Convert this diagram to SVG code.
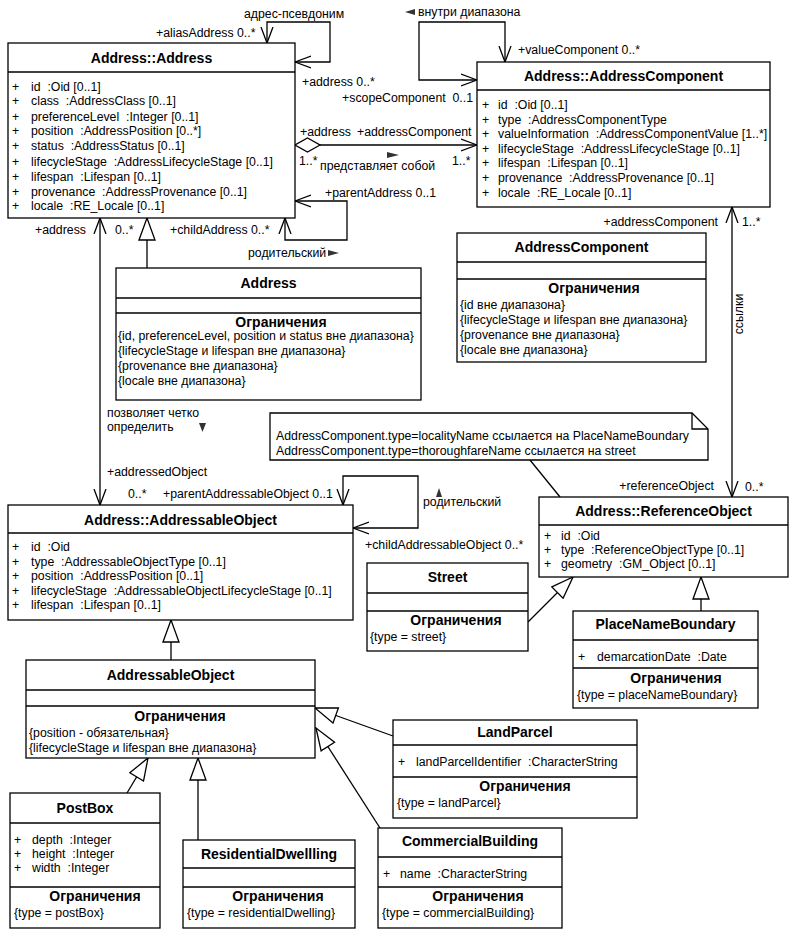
<svg xmlns="http://www.w3.org/2000/svg" width="796" height="935" viewBox="0 0 796 935">
<style>
 text{font-family:"Liberation Sans",Arial,sans-serif;font-size:12.3px;fill:#000;white-space:pre}
 .ti{font-weight:bold;font-size:14px;text-anchor:middle}
 .ct{font-weight:bold;font-size:14px;text-anchor:middle}
 .end{text-anchor:end}
 .box{fill:#fff;stroke:#000;stroke-width:1.3}
 .sep{stroke:#000;stroke-width:1.3}
 .con{fill:none;stroke:#000;stroke-width:1.3}
 .dir{fill:#333}
</style>
<defs>
 <marker id="op" viewBox="0 0 17 14" refX="16" refY="7" markerWidth="17" markerHeight="14" markerUnits="userSpaceOnUse" orient="auto-start-reverse"><path d="M0,1 L16,7 L0,13" fill="none" stroke="#000" stroke-width="1.3"/></marker>
 <marker id="gen" viewBox="0 0 24 18" refX="23" refY="9" markerWidth="24" markerHeight="18" markerUnits="userSpaceOnUse" orient="auto"><path d="M1,1 L23,9 L1,17 Z" fill="#fff" stroke="#000" stroke-width="1.3"/></marker>
 <marker id="dia" viewBox="0 0 27 16" refX="26" refY="8" markerWidth="27" markerHeight="16" markerUnits="userSpaceOnUse" orient="auto-start-reverse"><path d="M1,8 L13.5,1 L26,8 L13.5,15 Z" fill="#fff" stroke="#000" stroke-width="1.3"/></marker>
</defs>
<rect width="796" height="935" fill="#fff"/>

<g id="connectors">
 <path class="con" d="M267,43 V22 H330 V62 H295" marker-start="url(#op)" marker-end="url(#op)"/>
 <path class="con" d="M295,201 H347 V240 H285 V218" marker-start="url(#op)" marker-end="url(#op)"/>
 <path class="con" d="M295,145 H477" marker-start="url(#dia)" marker-end="url(#op)"/>
 <path class="con" d="M505,62 V22 H419 V80 H477" marker-start="url(#op)" marker-end="url(#op)"/>
 <path class="con" d="M100,218 V505" marker-start="url(#op)" marker-end="url(#op)"/>
 <path class="con" d="M147,268 V218" marker-end="url(#gen)"/>
 <path class="con" d="M732,207 V497" marker-start="url(#op)" marker-end="url(#op)"/>
 <path class="con" d="M530,460 L560,497"/>
 <path class="con" d="M343,505 V476 H418 V528 H353" marker-start="url(#op)" marker-end="url(#op)"/>
 <path class="con" d="M171,660 V620" marker-end="url(#gen)"/>
 <path class="con" d="M528,622 L573,577" marker-end="url(#gen)"/>
 <path class="con" d="M701,611 V577" marker-end="url(#gen)"/>
 <path class="con" d="M393,736 L315,708" marker-end="url(#gen)"/>
 <path class="con" d="M380,828 L316,728" marker-end="url(#gen)"/>
 <path class="con" d="M127,793 L148,758" marker-end="url(#gen)"/>
 <path class="con" d="M198,840 V758" marker-end="url(#gen)"/>

 <text x="244" y="18">адрес-псевдоним</text>
 <text x="156" y="37">+aliasAddress 0..*</text>
 <text x="302" y="86">+address 0..*</text>
 <polygon class="dir" points="405,12 415,9 415,15"/>
 <text x="418" y="16">внутри диапазона</text>
 <text x="518" y="54">+valueComponent 0..*</text>
 <text class="end" x="473" y="102">+scopeComponent  0..1</text>
 <text x="300" y="136">+address</text>
 <text x="357" y="136">+addressComponent</text>
 <text x="299" y="165">1..*</text>
 <text x="320" y="170">представляет собой</text>
 <polygon class="dir" points="387,152 399,155 387,158"/>
 <text x="452" y="165">1..*</text>
 <text x="325" y="197">+parentAddress 0..1</text>
 <text x="35" y="234">+address</text>
 <text x="115" y="234">0..*</text>
 <text x="170" y="234">+childAddress 0..*</text>
 <text x="248" y="257">родительский</text>
 <polygon class="dir" points="328,250 339,253 328,256"/>
 <text class="end" x="718" y="226">+addressComponent</text>
 <text x="742" y="226">1..*</text>
 <text transform="translate(743,314) rotate(-90)" text-anchor="middle">ссылки</text>
 <text x="107" y="417">позволяет четко</text>
 <text x="107" y="431">определить</text>
 <polygon class="dir" points="199,423 206,423 202.5,432"/>
 <text x="107" y="476">+addressedObject</text>
 <text x="128" y="498">0..*</text>
 <text x="163" y="498">+parentAddressableObject 0..1</text>
 <polygon class="dir" points="436,497 439,488 442,497"/>
 <text x="423" y="506">родительский</text>
 <text x="365" y="549">+childAddressableObject 0..*</text>
 <text class="end" x="714" y="490">+referenceObject</text>
 <text x="745" y="491">0..*</text>
</g>

<g id="address-address">
 <rect class="box" x="8" y="43" width="287" height="175"/>
 <line class="sep" x1="8" y1="72" x2="295" y2="72"/>
 <text class="ti" x="151.5" y="63">Address::Address</text>
 <text x="12" y="91">+</text><text x="31" y="91">id  :Oid [0..1]</text>
 <text x="12" y="105">+</text><text x="31" y="105">class  :AddressClass [0..1]</text>
 <text x="12" y="121">+</text><text x="31" y="121">preferenceLevel  :Integer [0..1]</text>
 <text x="12" y="135">+</text><text x="31" y="135">position  :AddressPosition [0..*]</text>
 <text x="12" y="150">+</text><text x="31" y="150">status  :AddressStatus [0..1]</text>
 <text x="12" y="166">+</text><text x="31" y="166">lifecycleStage  :AddressLifecycleStage [0..1]</text>
 <text x="12" y="181">+</text><text x="31" y="181">lifespan  :Lifespan [0..1]</text>
 <text x="12" y="196">+</text><text x="31" y="196">provenance  :AddressProvenance [0..1]</text>
 <text x="12" y="210">+</text><text x="31" y="210">locale  :RE_Locale [0..1]</text>
</g>

<g id="address-component">
 <rect class="box" x="477" y="62" width="293" height="145"/>
 <line class="sep" x1="477" y1="90" x2="770" y2="90"/>
 <text class="ti" x="623.5" y="81">Address::AddressComponent</text>
 <text x="482" y="109">+</text><text x="498" y="109">id  :Oid [0..1]</text>
 <text x="482" y="124">+</text><text x="498" y="124">type  :AddressComponentType</text>
 <text x="482" y="138">+</text><text x="498" y="138">valueInformation  :AddressComponentValue [1..*]</text>
 <text x="482" y="153">+</text><text x="498" y="153">lifecycleStage  :AddressLifecycleStage [0..1]</text>
 <text x="482" y="167">+</text><text x="498" y="167">lifespan  :Lifespan [0..1]</text>
 <text x="482" y="182">+</text><text x="498" y="182">provenance  :AddressProvenance [0..1]</text>
 <text x="482" y="197">+</text><text x="498" y="197">locale  :RE_Locale [0..1]</text>
</g>

<g id="address-constraints">
 <rect class="box" x="116" y="268" width="305" height="132"/>
 <line class="sep" x1="116" y1="298" x2="421" y2="298"/>
 <line class="sep" x1="116" y1="313" x2="421" y2="313"/>
 <text class="ti" x="268.5" y="288">Address</text>
 <text class="ct" x="281" y="327">Ограничения</text>
 <text x="118" y="340">{id, preferenceLevel, position и status вне диапазона}</text>
 <text x="118" y="355">{lifecycleStage и lifespan вне диапазона}</text>
 <text x="118" y="370">{provenance вне диапазона}</text>
 <text x="118" y="385">{locale вне диапазона}</text>
</g>

<g id="addresscomponent-constraints">
 <rect class="box" x="457" y="233" width="249" height="129"/>
 <line class="sep" x1="457" y1="262" x2="706" y2="262"/>
 <line class="sep" x1="457" y1="279" x2="706" y2="279"/>
 <text class="ti" x="581.5" y="252">AddressComponent</text>
 <text class="ct" x="594" y="293">Ограничения</text>
 <text x="460" y="309">{id вне диапазона}</text>
 <text x="460" y="324">{lifecycleStage и lifespan вне диапазона}</text>
 <text x="460" y="339">{provenance вне диапазона}</text>
 <text x="460" y="354">{locale вне диапазона}</text>
</g>

<g id="note">
 <path class="box" d="M270,413 H692 L708,429 V460 H270 Z"/>
 <path class="con" d="M692,413 V429 H708"/>
 <text x="276" y="440">AddressComponent.type=localityName ссылается на PlaceNameBoundary</text>
 <text x="276" y="455">AddressComponent.type=thoroughfareName ссылается на street</text>
</g>

<g id="address-addressableobject">
 <rect class="box" x="8" y="505" width="345" height="115"/>
 <line class="sep" x1="8" y1="533" x2="353" y2="533"/>
 <text class="ti" x="180.5" y="525">Address::AddressableObject</text>
 <text x="12" y="551">+</text><text x="31" y="551">id  :Oid</text>
 <text x="12" y="566">+</text><text x="31" y="566">type  :AddressableObjectType [0..1]</text>
 <text x="12" y="580">+</text><text x="31" y="580">position  :AddressPosition [0..1]</text>
 <text x="12" y="595">+</text><text x="31" y="595">lifecycleStage  :AddressableObjectLifecycleStage [0..1]</text>
 <text x="12" y="609">+</text><text x="31" y="609">lifespan  :Lifespan [0..1]</text>
</g>

<g id="address-referenceobject">
 <rect class="box" x="539" y="497" width="249" height="80"/>
 <line class="sep" x1="539" y1="525" x2="788" y2="525"/>
 <text class="ti" x="663.5" y="516">Address::ReferenceObject</text>
 <text x="544" y="540">+</text><text x="561" y="540">id  :Oid</text>
 <text x="544" y="554">+</text><text x="561" y="554">type  :ReferenceObjectType [0..1]</text>
 <text x="544" y="568">+</text><text x="561" y="568">geometry  :GM_Object [0..1]</text>
</g>

<g id="street">
 <rect class="box" x="367" y="563" width="161" height="88"/>
 <line class="sep" x1="367" y1="593" x2="528" y2="593"/>
 <line class="sep" x1="367" y1="611" x2="528" y2="611"/>
 <text class="ti" x="447.5" y="582">Street</text>
 <text class="ct" x="456" y="625">Ограничения</text>
 <text x="370" y="641">{type = street}</text>
</g>

<g id="placenameboundary">
 <rect class="box" x="573" y="611" width="185" height="97"/>
 <line class="sep" x1="573" y1="640" x2="758" y2="640"/>
 <line class="sep" x1="573" y1="668" x2="758" y2="668"/>
 <text class="ti" x="665.5" y="629">PlaceNameBoundary</text>
 <text x="578" y="661">+</text><text x="597" y="661">demarcationDate  :Date</text>
 <text class="ct" x="676" y="683">Ограничения</text>
 <text x="577" y="699">{type = placeNameBoundary}</text>
</g>

<g id="addressableobject-constraints">
 <rect class="box" x="26" y="660" width="289" height="98"/>
 <line class="sep" x1="26" y1="690" x2="315" y2="690"/>
 <line class="sep" x1="26" y1="706" x2="315" y2="706"/>
 <text class="ti" x="170.5" y="680">AddressableObject</text>
 <text class="ct" x="180" y="721">Ограничения</text>
 <text x="29" y="737">{position - обязательная}</text>
 <text x="29" y="752">{lifecycleStage и lifespan вне диапазона}</text>
</g>

<g id="landparcel">
 <rect class="box" x="393" y="720" width="244" height="98"/>
 <line class="sep" x1="393" y1="745" x2="637" y2="745"/>
 <line class="sep" x1="393" y1="777" x2="637" y2="777"/>
 <text class="ti" x="515" y="737">LandParcel</text>
 <text x="398" y="766">+</text><text x="416" y="766">landParcelIdentifier  :CharacterString</text>
 <text class="ct" x="525" y="791">Ограничения</text>
 <text x="397" y="807">{type = landParcel}</text>
</g>

<g id="postbox">
 <rect class="box" x="10" y="793" width="150" height="135"/>
 <line class="sep" x1="10" y1="823" x2="160" y2="823"/>
 <line class="sep" x1="10" y1="887" x2="160" y2="887"/>
 <text class="ti" x="85" y="813">PostBox</text>
 <text x="14" y="844">+</text><text x="32" y="844">depth  :Integer</text>
 <text x="14" y="858">+</text><text x="32" y="858">height  :Integer</text>
 <text x="14" y="872">+</text><text x="32" y="872">width  :Integer</text>
 <text class="ct" x="95" y="901">Ограничения</text>
 <text x="14" y="917">{type = postBox}</text>
</g>

<g id="residentialdwelling">
 <rect class="box" x="183" y="840" width="172" height="88"/>
 <line class="sep" x1="183" y1="868" x2="355" y2="868"/>
 <line class="sep" x1="183" y1="887" x2="355" y2="887"/>
 <text class="ti" x="269" y="859">ResidentialDwellling</text>
 <text class="ct" x="278" y="901">Ограничения</text>
 <text x="187" y="917">{type = residentialDwelling}</text>
</g>

<g id="commercialbuilding">
 <rect class="box" x="378" y="828" width="184" height="100"/>
 <line class="sep" x1="378" y1="857" x2="562" y2="857"/>
 <line class="sep" x1="378" y1="887" x2="562" y2="887"/>
 <text class="ti" x="470" y="846">CommercialBuilding</text>
 <text x="383" y="878">+</text><text x="400" y="878">name  :CharacterString</text>
 <text class="ct" x="478" y="901">Ограничения</text>
 <text x="382" y="917">{type = commercialBuilding}</text>
</g>
</svg>
